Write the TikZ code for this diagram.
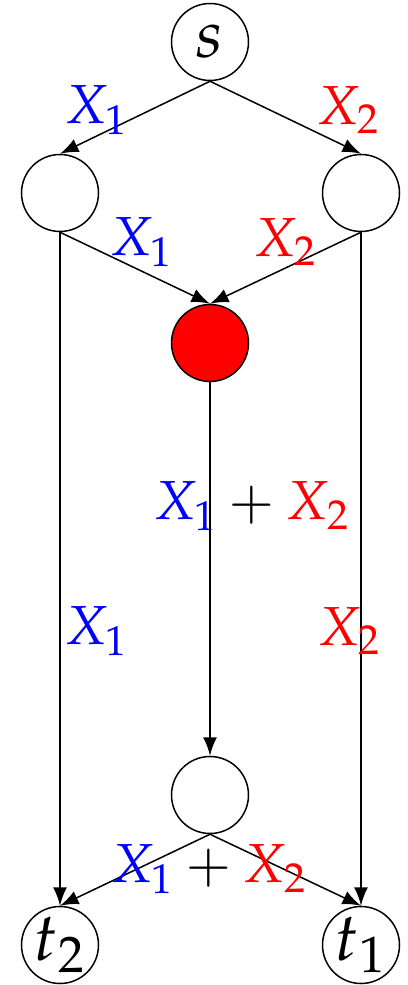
\documentclass[tikz,border=0pt]{standalone}
\usepackage{amsmath,amssymb}
\usepackage{mathpazo}
\usepackage{xcolor}
\usepackage{tikz}
\usetikzlibrary{arrows}
\usetikzlibrary{shapes}
\tikzstyle{v} = [circle, draw, inner sep=0pt, minimum size=15.4pt, line width=0.3pt, font=\fontsize{13.5}{15}\selectfont]
\tikzstyle{l} = [inner sep=0pt, font=\fontsize{11}{13}\selectfont]
\tikzstyle{e} = [->, >=latex, line width=0.3pt]

\begin{document}
\begin{tikzpicture}[x=0.2pt,y=-0.2pt]
	\useasboundingbox (0,0) rectangle (408,985);
		\node[v] (s) at (210,42) {$s$};
		\node[v] (a) at (60,193) {};
		\node[v] (b) at (361,193) {};
		\node[v, fill=red] (c) at (210,343) {};
		\node[v] (d) at (210,795) {};
		\node[v] (t2) at (60,945) {$t_2$};
		\node[v] (t1) at (361,945) {$t_1$};
		\foreach \from/\to in {s/a,s/b,a/c,b/c,c/d,a/t2,b/t1,d/t2,d/t1}
		\draw[e] (\from.south) -- (\to.north);
	%	flow labels
		\node[l] (x1a) at (97,110) {$\color{blue}X_1$};
		\node[l] (x2a) at (349,110) {$\color{red}X_2$};
		\node[l] (x1b) at (142,242) {$\color{blue}X_1$};
		\node[l] (x2b) at (286,242) {$\color{red}X_2$};
		\node[l] (x12) at (252,506) {$\color{blue}X_1\color{black}+\color{red}X_2$};
		\node[l] (x1c) at (97,631) {$\color{blue}X_1$};
		\node[l] (x2c) at (350,631) {$\color{red}X_2$};
		\node[l] (x12b) at (209,869) {$\color{blue}X_1\color{black}+\color{red}X_2$};
	\end{tikzpicture}
\end{document}
